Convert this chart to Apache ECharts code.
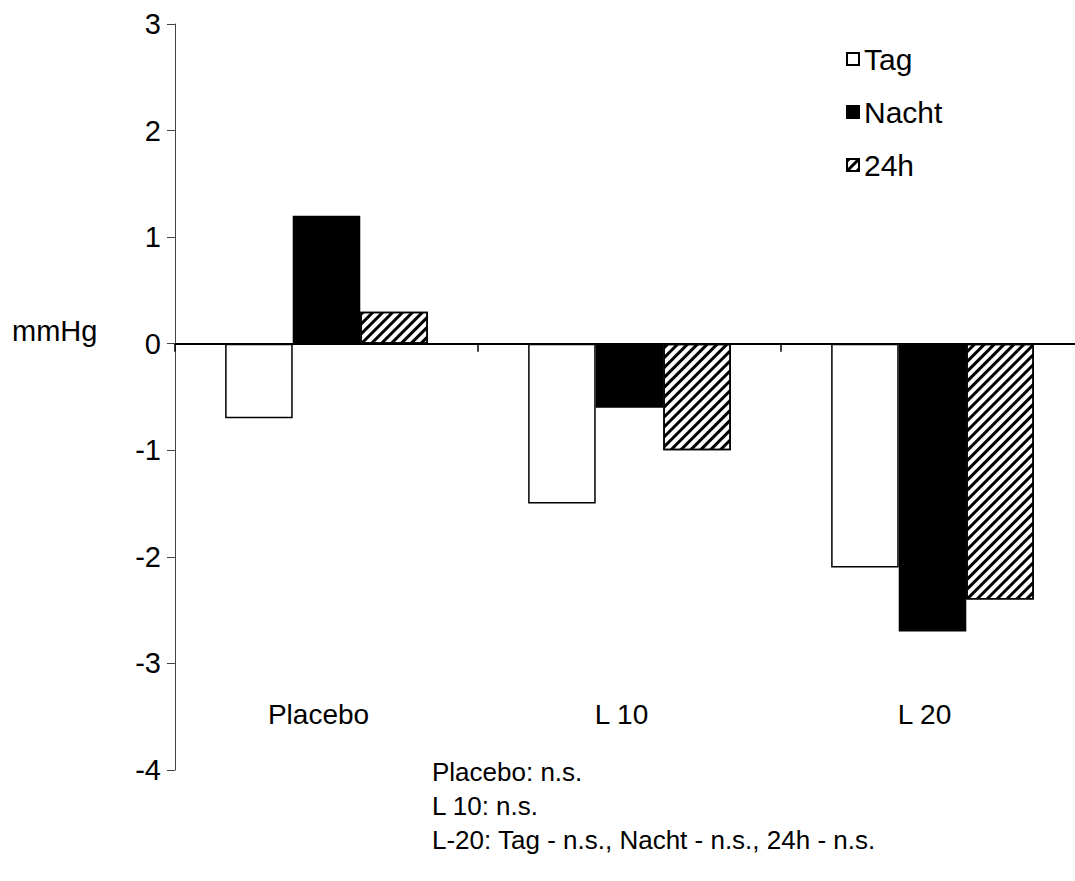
<!DOCTYPE html>
<html>
<head>
<meta charset="utf-8">
<script src="https://cdn.jsdelivr.net/npm/echarts@6/dist/echarts.min.js"></script>
<style>
html,body{margin:0;padding:0;background:#fff;}
#chart{width:1075px;height:881px;}
</style>
</head>
<body>
<div id="chart"></div>
<script>
const categories = ['Placebo', 'L 10', 'L 20'];
const seriesNames = ['Tag', 'Nacht', '24h'];
const tagValues = [-0.7, -1.5, -2.1];
const nachtValues = [1.2, -0.6, -2.7];
const h24Values = [0.3, -1.0, -2.4];
const yMin = -4, yMax = 3, yStep = 1;
const yAxisTitle = 'mmHg';
const footnoteLines = ['Placebo: n.s.', 'L 10: n.s.', 'L-20: Tag - n.s., Nacht - n.s., 24h - n.s.'];

const FONT = '"Liberation Sans", Arial, Helvetica, sans-serif';
const chart = echarts.init(document.getElementById('chart'), null, {renderer: 'svg'});

const hatch = {
  symbol: 'rect',
  symbolSize: 1,
  color: '#000',
  dashArrayX: [1, 0],
  dashArrayY: [3, 3.4],
  rotation: -Math.PI / 4
};

const option = {
  backgroundColor: '#fff',
  animation: false,
  textStyle: {fontFamily: FONT},
  grid: {left: 175, right: -9, top: 24, bottom: 111, containLabel: false, outerBoundsMode: 'none'},
  legend: {
    orient: 'vertical',
    left: 846, top: 44,
    icon: 'rect',
    itemWidth: 12, itemHeight: 12,
    itemGap: 23,
    padding: 0,
    textStyle: {fontSize: 30, color: '#000', fontFamily: FONT},
    data: seriesNames
  },
  xAxis: {
    type: 'category',
    data: categories,
    axisLine: {onZero: true, lineStyle: {color: '#000', width: 2}},
    axisTick: {show: true, length: 8, lineStyle: {color: '#000', width: 1.5}},
    axisLabel: {margin: -70, fontSize: 28, color: '#000', fontFamily: FONT, padding: [0, 16, 0, 0]},
    splitLine: {show: false}
  },
  yAxis: {
    type: 'value',
    min: yMin, max: yMax, interval: yStep,
    axisLine: {show: true, lineStyle: {color: '#444', width: 1}},
    axisTick: {show: true, length: 8, lineStyle: {color: '#444', width: 1}},
    axisLabel: {margin: 14, fontSize: 29, color: '#000', fontFamily: FONT},
    splitLine: {show: false}
  },
  graphic: [
    {type: 'text', left: 12, top: 316, style: {text: yAxisTitle, fontSize: 29, fill: '#000', fontFamily: FONT}},
    {type: 'text', left: 432, top: 755, style: {text: footnoteLines.join('\n'), fontSize: 26, lineHeight: 34, fill: '#000', fontFamily: FONT}}
  ],
  series: [
    {name: seriesNames[0], type: 'bar', data: tagValues, barWidth: '22.3%', barGap: '0%',
     itemStyle: {color: '#fff', borderColor: '#000', borderWidth: 1.5}},
    {name: seriesNames[1], type: 'bar', data: nachtValues, barWidth: '22.3%', barGap: '0%',
     itemStyle: {color: '#000', borderColor: '#000', borderWidth: 1.5}},
    {name: seriesNames[2], type: 'bar', data: h24Values, barWidth: '22.3%', barGap: '0%',
     itemStyle: {color: '#fff', borderColor: '#000', borderWidth: 1.5, decal: hatch}}
  ]
};
chart.setOption(option);
</script>
</body>
</html>
